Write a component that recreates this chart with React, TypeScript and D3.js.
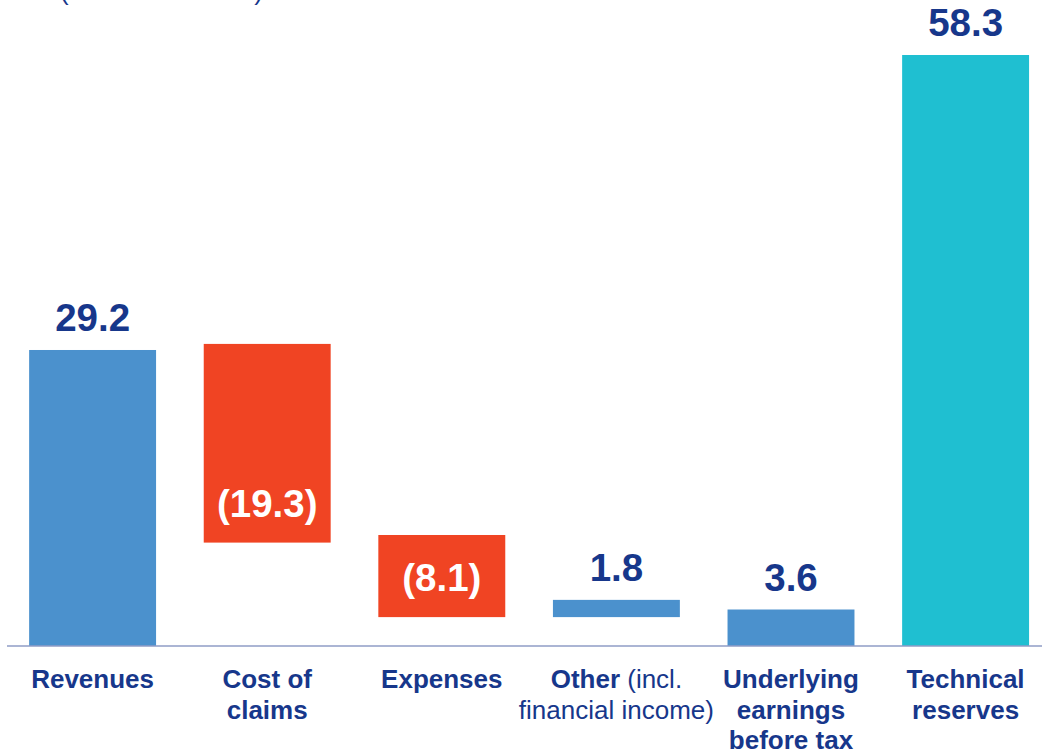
import React from "react";
import * as d3 from "d3";

// ---- data ----
const categories = ["Revenues", "Cost of claims", "Expenses", "Other", "Underlying earnings", "Technical reserves"];
// category label lines: [text, weight][] per line
const categoryLines: [string, string][][] = [
  [[["Revenues", "bold"]]] as any,
  [[["Cost of", "bold"]], [["claims", "bold"]]] as any,
  [[["Expenses", "bold"]]] as any,
  [[["Other", "bold"], [" (incl.", "normal"]], [["financial income)", "normal"]]] as any,
  [[["Underlying", "bold"]], [["earnings", "bold"]], [["before tax", "bold"]]] as any,
  [[["Technical", "bold"]], [["reserves", "bold"]]] as any,
];
const valueLabels = ["29.2", "(19.3)", "(8.1)", "1.8", "3.6", "58.3"];
const barLow = [0, 10.2, 2.85, 2.85, 0, 0];
const barHigh = [29.2, 29.8, 10.95, 4.55, 3.6, 58.3];
const barKind = ["pos", "neg", "neg", "pos", "pos", "total"];
const unitText = "(in EUR billion)";

const W = 1042;
const H = 754;
const BASE_Y = 646;
const NAVY = "#17378b";
const COLORS: Record<string, string> = { pos: "#4b91cd", neg: "#f04423", total: "#1fbfd1" };
const FONT = "'Liberation Sans', Arial, Helvetica, sans-serif";

export default function App() {
  const x = d3
    .scaleBand<string>()
    .domain(categories)
    .range([5.3, 1052.9])
    .paddingInner(0.273)
    .paddingOuter(0.1365);
  const y = d3.scaleLinear().domain([0, 58.3]).range([BASE_Y, 55]);
  const bw = x.bandwidth();

  return (
    <svg
      width={W}
      height={H}
      style={{ position: "absolute", left: 0, top: 0, display: "block", background: "#fff" }}
      fontFamily={FONT}
    >
      <text x={60} y={0} fontSize={26} fill={NAVY} textLength={203} lengthAdjust="spacing">
        {unitText}
      </text>
      {categories.map((c, i) => {
        const x0 = x(c)!;
        const top = y(barHigh[i]);
        const bot = y(barLow[i]);
        const cx = x0 + bw / 2;
        const neg = barKind[i] === "neg";
        return (
          <g key={c}>
            <rect x={x0} y={top} width={bw} height={bot - top} fill={COLORS[barKind[i]]} />
            <text
              x={cx}
              y={neg ? bot - 26 : top - 19}
              textAnchor="middle"
              fontSize={38.5}
              fontWeight="bold"
              fill={neg ? "#ffffff" : NAVY}
            >
              {valueLabels[i]}
            </text>
          </g>
        );
      })}
      <line x1={7} x2={W} y1={BASE_Y} y2={BASE_Y} stroke="#8f9cc6" strokeWidth={1.6} />
      {categories.map((c, i) => {
        const cx = x(c)! + bw / 2;
        return (
          <text key={"l" + c} textAnchor="middle" fontSize={26} fill={NAVY}>
            {categoryLines[i].map((line: any, li: number) => (
              <tspan key={li} x={cx} y={688 + li * 30.5}>
                {line.map((seg: any, si: number) => (
                  <tspan key={si} fontWeight={seg[1]}>
                    {seg[0]}
                  </tspan>
                ))}
              </tspan>
            ))}
          </text>
        );
      })}
    </svg>
  );
}
